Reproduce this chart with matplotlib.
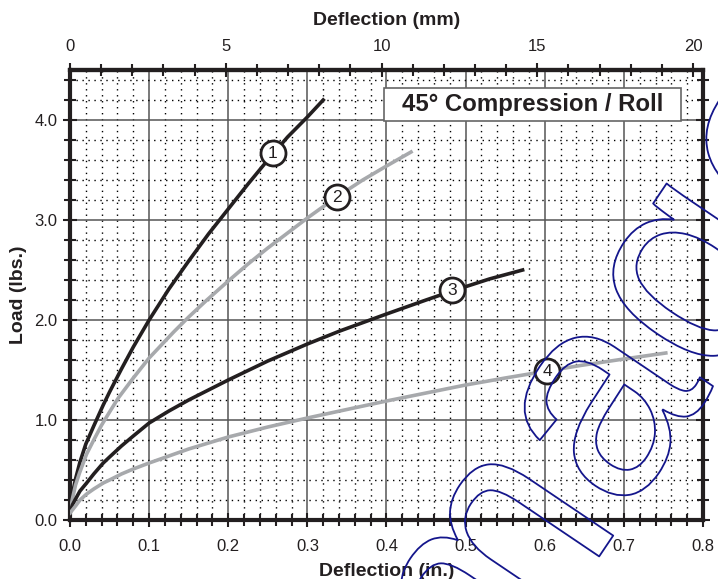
# load vs deflection chart, 45 deg compression / roll
import matplotlib
matplotlib.use('Agg')
import matplotlib.pyplot as plt
import matplotlib.patheffects as pe
from matplotlib.patches import Rectangle
from matplotlib.ticker import MultipleLocator

plt.rcParams['font.family'] = ['Liberation Sans', 'DejaVu Sans']

# curve data (deflection in inches, load in lbs)
x1 = [0, 0.003, 0.007, 0.0126, 0.02, 0.03, 0.042, 0.05, 0.065, 0.08, 0.1,
      0.125, 0.15, 0.175, 0.2, 0.225, 0.25, 0.275, 0.3, 0.32]
y1 = [0.07, 0.26, 0.41, 0.58, 0.76, 0.94, 1.15, 1.28, 1.51, 1.73, 2.0,
      2.31, 2.59, 2.86, 3.11, 3.36, 3.6, 3.83, 4.03, 4.2]

x2 = [0, 0.003, 0.007, 0.012, 0.021, 0.03, 0.04, 0.05, 0.061, 0.08, 0.1,
      0.131, 0.15, 0.173, 0.2, 0.225, 0.25, 0.275, 0.3, 0.337, 0.37, 0.4, 0.431]
y2 = [0.07, 0.21, 0.35, 0.47, 0.66, 0.8, 0.95, 1.08, 1.22, 1.42, 1.62,
      1.88, 2.03, 2.2, 2.39, 2.56, 2.72, 2.87, 3.02, 3.23, 3.4, 3.54, 3.68]

x3 = [0, 0.003, 0.007, 0.0126, 0.021, 0.03, 0.042, 0.05, 0.065, 0.08, 0.1,
      0.125, 0.15, 0.175, 0.2, 0.25, 0.3, 0.341, 0.4, 0.45, 0.483, 0.53, 0.572]
y3 = [0.07, 0.15, 0.21, 0.29, 0.37, 0.46, 0.57, 0.63, 0.74, 0.84, 0.97,
      1.09, 1.2, 1.3, 1.4, 1.59, 1.76, 1.89, 2.06, 2.2, 2.29, 2.41, 2.5]

x4 = [0, 0.003, 0.007, 0.0126, 0.021, 0.03, 0.042, 0.05, 0.065, 0.08, 0.1,
      0.15, 0.2, 0.25, 0.3, 0.341, 0.4, 0.45, 0.5, 0.55, 0.603, 0.645, 0.7, 0.753]
y4 = [0.07, 0.1, 0.14, 0.2, 0.26, 0.31, 0.37, 0.4, 0.46, 0.51, 0.57,
      0.71, 0.83, 0.93, 1.02, 1.09, 1.19, 1.27, 1.35, 1.42, 1.49, 1.545, 1.61, 1.67]

# numbered circle labels on the curves
label_names = ['1', '2', '3', '4']
label_x = [0.256, 0.337, 0.483, 0.603]
label_y = [3.67, 3.23, 2.3, 1.49]

x_ticks = [0, 0.1, 0.2, 0.3, 0.4, 0.5, 0.6, 0.7, 0.8]
x_ticklabels = ['0.0', '0.1', '0.2', '0.3', '0.4', '0.5', '0.6', '0.7', '0.8']
y_ticks = [0, 1, 2, 3, 4]
y_ticklabels = ['0.0', '1.0', '2.0', '3.0', '4.0']
mm_ticks = [0, 5, 10, 15, 20]

black = '#231f20'
gray = '#a7a9ac'

fig = plt.figure(figsize=(7.18, 5.79), dpi=100)
ax = fig.add_axes([0.0975, 0.1019, 0.8816, 0.7772])
ax.set_xlim(0, 0.8)
ax.set_ylim(0, 4.5)

ax.set_xticks(x_ticks)
ax.set_xticklabels(x_ticklabels)
ax.set_yticks(y_ticks)
ax.set_yticklabels(y_ticklabels)
ax.xaxis.set_minor_locator(MultipleLocator(0.02))
ax.yaxis.set_minor_locator(MultipleLocator(0.2))

ax.grid(which='major', color='#555555', lw=1.1, ls='-')
ax.grid(which='minor', color='black', lw=1.0, ls=(0, (1, 3.3)))
ax.set_axisbelow(True)

for s in ax.spines.values():
    s.set_linewidth(3)
    s.set_color(black)
ax.tick_params(which='both', direction='inout', width=1.5, color=black,
               right=True, labelsize=12, labelcolor=black)
ax.tick_params(which='major', length=10)
ax.tick_params(which='minor', length=8)
ax.tick_params(axis='x', which='major', pad=8.5)
ax.tick_params(axis='y', which='major', pad=4)

# top axis in millimetres
sec = ax.secondary_xaxis('top', functions=(lambda x: x * 25.4, lambda m: m / 25.4))
sec.set_xticks(mm_ticks)
sec.xaxis.set_minor_locator(MultipleLocator(1))
sec.tick_params(which='both', direction='inout', width=1.5, color=black,
                labelsize=12, labelcolor=black)
sec.tick_params(which='major', length=10, pad=6.5)
sec.tick_params(which='minor', length=8)
sec.spines['top'].set_linewidth(3)
sec.set_xlabel('Deflection (mm)', fontweight='bold', fontsize=14, labelpad=10, color=black)

ax.set_xlabel('Deflection (in.)', fontweight='bold', fontsize=14, labelpad=7, color=black)
ax.set_ylabel('Load (lbs.)', fontweight='bold', fontsize=14, labelpad=5, color=black)

ax.plot(x1, y1, color=black, lw=2.6, zorder=3)
ax.plot(x2, y2, color=gray, lw=2.6, zorder=3)
ax.plot(x3, y3, color=black, lw=2.6, zorder=3)
ax.plot(x4, y4, color=gray, lw=2.6, zorder=3)

for name, lx, ly in zip(label_names, label_x, label_y):
    ax.plot(lx, ly, 'o', ms=18, mfc='white', mec=black, mew=2, zorder=4)
    ax.text(lx, ly, name, ha='center', va='center', fontsize=12.5, color=black, zorder=5)

# title box
ax.add_patch(Rectangle((0.496, 0.887), 0.469, 0.073, transform=ax.transAxes,
                       facecolor='white', edgecolor='#666666', lw=1.2, zorder=6))
ax.text(0.7305, 0.923, '45\u00b0 Compression / Roll', transform=ax.transAxes,
        ha='center', va='center', fontsize=17.3, fontweight='bold', color=black, zorder=7)

# outlined watermark
fig.text(0.845, 0.29, 'Image', fontsize=208, rotation=56, rotation_mode='anchor',
         ha='center', va='center', color='none', zorder=10,
         family=['Liberation Sans Narrow', 'Liberation Sans'],
         path_effects=[pe.withStroke(linewidth=1.3, foreground='#14168c')])

fig.savefig('out.png', dpi=100)
